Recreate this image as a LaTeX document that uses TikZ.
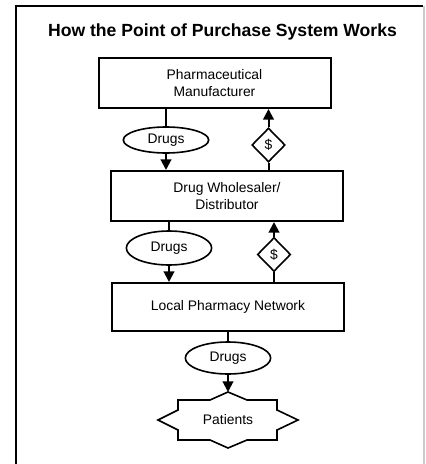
\documentclass[tikz,border=0pt]{standalone}
\usepackage{fontspec}
\setmainfont{Liberation Sans}
\usetikzlibrary{shapes.geometric,arrows.meta,calc}

\begin{document}
\begin{tikzpicture}[x=0.75pt,y=-0.75pt]

\tikzstyle{firm} = [rectangle, draw=black, line width=1.5pt, minimum width=174pt, minimum height=37.5pt, align=center, font=\fontsize{10.4}{12.8}\selectfont]
\tikzstyle{goods} = [ellipse, draw=black, line width=1.2pt, inner sep=0pt, minimum width=64pt, minimum height=24pt, font=\fontsize{10.4}{12.8}\selectfont]
\tikzstyle{money} = [diamond, draw=black, line width=1.2pt, inner sep=0pt, minimum width=25pt, minimum height=25.5pt, font=\fontsize{10.4}{12.8}\selectfont]
\tikzstyle{flow} = [line width=1.5pt]
\tikzstyle{flow_arrow} = [flow, -{Triangle[width=8pt,length=8pt]}]

\useasboundingbox (0,0) rectangle (425,464);

% frame and title
\draw[line width=1.5pt] (16,464) -- (16,6) -- (423,6);
\draw[gray!40, line width=0.8pt] (424,6) -- (424,464);
\node[font=\fontsize{13.2}{15}\selectfont\bfseries] (title) at (222.5,32) {How the Point of Purchase System Works};

%------------------------------------------------------------
	\node[firm] (mfr) at (214.5,83) {Pharmaceutical\\Manufacturer};
	\node[goods, minimum height=19.5pt] (drugsA) at (166,140) {Drugs};
	\node[money] (payA) at (268.5,145) {\$};

%------------------------------------------------------------
	\node[firm] (whs) at (227,196) {Drug Wholesaler/\\Distributor};
	\node[goods, minimum height=25.5pt] (drugsB) at (169,248) {Drugs};
	\node[money] (payB) at (274,254.5) {\$};

	\draw[flow] (drugsA |- mfr.south) -- (drugsA.north);
	\draw[flow_arrow] (drugsA.south) -- (drugsA |- whs.north);
	\draw[flow_arrow] (payA.north) -- (payA |- mfr.south);
	\draw[flow] (payA |- whs.north) -- (payA.south);

%------------------------------------------------------------
	\node[firm, minimum height=36pt] (pharm) at (228,307) {Local Pharmacy Network};
	\node[goods] (drugsC) at (228,358) {Drugs};
	\node[font=\fontsize{10.4}{12.8}\selectfont] (pat) at (228,420) {Patients};

	\draw[flow] (drugsB |- whs.south) -- (drugsB.north);
	\draw[flow_arrow] (drugsB.south) -- (drugsB |- pharm.north);
	\draw[flow_arrow] (payB.north) -- (payB |- whs.south);
	\draw[flow] (payB |- pharm.north) -- (payB.south);

	\draw[flow] (pharm.south) -- (drugsC.north);

	% eight-point star round the patients
	\draw[line width=1.2pt] ($(pat)+(0,-28)$) -- ++(-18,8) -- ++(-32,0) -- ++(0,10) -- ++(-20,10)
		-- ++(20,10) -- ++(0,10) -- ++(32,0) -- ++(18,8) -- ++(19,-8) -- ++(30,0)
		-- ++(0,-10) -- ++(21,-10) -- ++(-21,-10) -- ++(0,-10) -- ++(-30,0) -- cycle;
	\coordinate (patTop) at ($(pat)+(0,-28)$);
	\draw[flow_arrow] (drugsC.south) -- (patTop);

\end{tikzpicture}
\end{document}
